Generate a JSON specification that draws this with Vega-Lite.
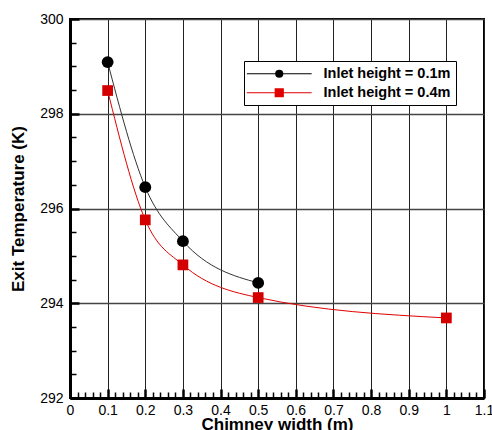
{
  "$schema": "https://vega.github.io/schema/vega-lite/v6.json",
  "width": 414,
  "height": 379,
  "autosize": "none",
  "padding": {"left": 70, "top": 19, "right": 8, "bottom": 32},
  "background": "white",
  "config": {
    "view": {"stroke": "black", "strokeWidth": 2},
    "font": "Liberation Sans"
  },
  "data": {
    "values": [
      {"w": 0.1, "T": 299.09, "s": "Inlet height = 0.1m"},
      {"w": 0.2, "T": 296.45, "s": "Inlet height = 0.1m"},
      {"w": 0.3, "T": 295.31, "s": "Inlet height = 0.1m"},
      {"w": 0.5, "T": 294.43, "s": "Inlet height = 0.1m"},
      {"w": 0.1, "T": 298.49, "s": "Inlet height = 0.4m"},
      {"w": 0.2, "T": 295.76, "s": "Inlet height = 0.4m"},
      {"w": 0.3, "T": 294.81, "s": "Inlet height = 0.4m"},
      {"w": 0.5, "T": 294.12, "s": "Inlet height = 0.4m"},
      {"w": 1.0, "T": 293.69, "s": "Inlet height = 0.4m"}
    ]
  },
  "encoding": {
    "x": {
      "field": "w", "type": "quantitative",
      "scale": {"domain": [0, 1.1], "nice": false, "zero": false},
      "axis": {
        "title": "Chimney width (m)",
        "titleFontSize": 17, "titleFontWeight": "bold", "titleColor": "black", "titlePadding": -4,
        "values": [0,0.02,0.04,0.06,0.08,0.1,0.12,0.14,0.16,0.18,0.2,0.22,0.24,0.26,0.28,0.3,0.32,0.34,0.36,0.38,0.4,0.42,0.44,0.46,0.48,0.5,0.52,0.54,0.56,0.58,0.6,0.62,0.64,0.66,0.68,0.7,0.72,0.74,0.76,0.78,0.8,0.82,0.84,0.86,0.88,0.9,0.92,0.94,0.96,0.98,1.0,1.02,1.04,1.06,1.08,1.1],
        "labelExpr": "abs(datum.value*10 - round(datum.value*10)) < 0.000001 ? '' + round(datum.value*10)/10 : ''",
        "labelFontSize": 14, "labelColor": "black", "labelFlush": false, "labelOverlap": false,
        "labelPadding": 14,
        "tickColor": "black",
        "tickSize": {"condition": {"test": "abs(datum.value*10 - round(datum.value*10)) < 0.000001", "value": -9}, "value": -6},
        "tickWidth": {"condition": {"test": "abs(datum.value*10 - round(datum.value*10)) < 0.000001", "value": 2.5}, "value": 1.5},
        "domainColor": "black", "domainWidth": 3,
        "grid": true,
        "gridWidth": 1,
        "gridColor": {"condition": {"test": "abs(datum.value*10 - round(datum.value*10)) < 0.000001", "value": "#222222"}, "value": "transparent"}
      }
    },
    "y": {
      "field": "T", "type": "quantitative",
      "scale": {"domain": [292, 300], "nice": false, "zero": false},
      "axis": {
        "title": "Exit Temperature (K)",
        "titleFontSize": 17, "titleFontWeight": "bold", "titleColor": "black", "titlePadding": 12,
        "values": [292,292.5,293,293.5,294,294.5,295,295.5,296,296.5,297,297.5,298,298.5,299,299.5,300],
        "labelExpr": "abs(datum.value/2 - round(datum.value/2)) < 0.000001 ? '' + datum.value : ''",
        "labelFontSize": 14, "labelColor": "black", "labelFlush": false, "labelOverlap": false,
        "labelPadding": 16,
        "tickColor": "black",
        "tickSize": {"condition": {"test": "abs(datum.value/2 - round(datum.value/2)) < 0.000001", "value": -9}, "value": -6},
        "tickWidth": {"condition": {"test": "abs(datum.value/2 - round(datum.value/2)) < 0.000001", "value": 2.5}, "value": 1.5},
        "domainColor": "black", "domainWidth": 3,
        "grid": true,
        "gridWidth": 1.5,
        "gridColor": {"condition": {"test": "abs(datum.value/2 - round(datum.value/2)) < 0.000001", "value": "#444444"}, "value": "transparent"}
      }
    }
  },
  "layer": [
    {
      "mark": {"type": "line", "interpolate": "monotone", "strokeWidth": 1},
      "encoding": {
        "detail": {"field": "s"},
        "color": {"condition": {"test": "datum.s === 'Inlet height = 0.1m'", "value": "#333333"}, "value": "#e00000"}
      }
    },
    {
      "mark": {"type": "point", "filled": true, "opacity": 1, "strokeWidth": 0},
      "encoding": {
        "shape": {"condition": {"test": "datum.s === 'Inlet height = 0.1m'", "value": "circle"}, "value": "square"},
        "color": {"condition": {"test": "datum.s === 'Inlet height = 0.1m'", "value": "black"}, "value": "#d40000"},
        "size": {"condition": {"test": "datum.s === 'Inlet height = 0.1m'", "value": 140}, "value": 115}
      }
    },
    {
      "mark": {"type": "point", "filled": false, "opacity": 0},
      "encoding": {
        "shape": {"field": "s", "type": "nominal", "scale": {"domain": ["Inlet height = 0.1m", "Inlet height = 0.4m"], "range": ["M-8.1,0H8.1M0.875,0A0.875,0.875 0 1 1 -0.875,0A0.875,0.875 0 1 1 0.875,0M0.625,0A0.625,0.625 0 1 1 -0.625,0A0.625,0.625 0 1 1 0.625,0M0.375,0A0.375,0.375 0 1 1 -0.375,0A0.375,0.375 0 1 1 0.375,0M0.125,0A0.125,0.125 0 1 1 -0.125,0A0.125,0.125 0 1 1 0.125,0", "M-8.1,0H8.1M-1,-1H1V1H-1ZM-0.75,-0.75H0.75V0.75H-0.75ZM-0.5,-0.5H0.5V0.5H-0.5ZM-0.25,-0.25H0.25V0.25H-0.25Z"]}},
        "color": {
          "field": "s", "type": "nominal",
          "scale": {"domain": ["Inlet height = 0.1m", "Inlet height = 0.4m"], "range": ["black", "#e00000"]},
          "legend": {
            "title": null,
            "orient": "none",
            "legendX": 174,
            "legendY": 42,
            "padding": 5.5,
            "fillColor": "white",
            "strokeColor": "black",
            "symbolSize": 64,
            "symbolOffset": 22.5,
            "labelOffset": 37,
            "rowPadding": 4,
            "symbolOpacity": 1,
            "symbolStrokeWidth": 1.2,
            "labelFont": "Liberation Sans",
            "labelFontSize": 14.5,
            "labelFontWeight": "bold",
            "labelColor": "black"
          }
        }
      }
    }
  ]
}
